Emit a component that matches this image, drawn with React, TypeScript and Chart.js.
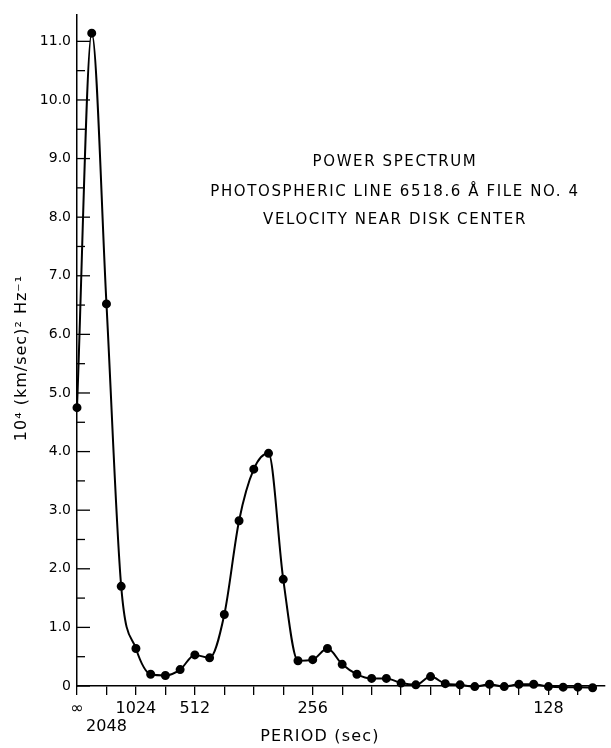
import React, { useEffect, useRef } from 'react';
import { Chart, registerables } from 'chart.js';

Chart.register(...registerables);

// frequency index: step of 1/4096 Hz
const freqIndex = [0, 1, 2, 3, 4, 5, 6, 7, 8, 9, 10, 11, 12, 13, 14, 15, 16, 17, 18, 19, 20, 21, 22, 23, 24, 25, 26, 27, 28, 29, 30, 31, 32, 33, 34, 35];
const power = [4.75, 11.14, 6.52, 1.7, 0.64, 0.2, 0.18, 0.28, 0.53, 0.48, 1.22, 2.82, 3.7, 3.97, 1.82, 0.43, 0.45, 0.64, 0.37, 0.2, 0.13, 0.13, 0.05, 0.02, 0.16, 0.04, 0.02, -0.01, 0.03, -0.01, 0.03, 0.03, -0.01, -0.02, -0.02, -0.03];

const periodTickValues = [0, 2, 4, 8, 16, 32];
const periodTickLabels = ['∞', '2048', '1024', '512', '256', '128'];
const periodTickLowered = [false, true, false, false, false, false];

const yTickValues = [0, 1, 2, 3, 4, 5, 6, 7, 8, 9, 10, 11];
const yMinorTickValues = [0.5, 1.5, 2.5, 3.5, 4.5, 5.5, 6.5, 7.5, 8.5, 9.5, 10.5];

const titleLines = ['POWER SPECTRUM', 'PHOTOSPHERIC LINE 6518.6 Å FILE NO. 4', 'VELOCITY NEAR DISK CENTER'];
const xTitle = 'PERIOD (sec)';
const yTitle = '10⁴ (km/sec)² Hz⁻¹';

const FONT = '"DejaVu Sans", sans-serif';

const decorPlugin = {
  id: 'decor',
  afterDraw(chart: any) {
    const { ctx, chartArea, scales } = chart;
    const y = scales.y;
    ctx.save();
    ctx.strokeStyle = '#000';
    ctx.lineWidth = 1.3;
    const left = chartArea.left;
    yTickValues.forEach((v) => {
      const py = y.getPixelForValue(v);
      ctx.beginPath();
      ctx.moveTo(left, py);
      ctx.lineTo(left + 13, py);
      ctx.stroke();
    });
    yMinorTickValues.forEach((v) => {
      const py = y.getPixelForValue(v);
      ctx.beginPath();
      ctx.moveTo(left, py);
      ctx.lineTo(left + 8, py);
      ctx.stroke();
    });

    ctx.fillStyle = '#000';
    ctx.textAlign = 'center';
    ctx.textBaseline = 'middle';
    ctx.font = `15px ${FONT}`;
    (ctx as any).letterSpacing = '1.6px';
    const tx = 395;
    const tys = [162, 192, 220];
    titleLines.forEach((t, i) => ctx.fillText(t, tx, tys[i]));

    ctx.font = `16px ${FONT}`;
    (ctx as any).letterSpacing = '1.2px';
    ctx.fillText(xTitle, 320, 737);

    ctx.translate(22, 358);
    ctx.rotate(-Math.PI / 2);
    ctx.font = `16px ${FONT}`;
    (ctx as any).letterSpacing = '1px';
    ctx.fillText(yTitle, 0, 0);
    ctx.restore();
  },
};

export default function App() {
  const ref = useRef<HTMLCanvasElement | null>(null);

  useEffect(() => {
    if (!ref.current) return;
    const chart = new Chart(ref.current, {
      type: 'line',
      data: {
        datasets: [
          {
            data: freqIndex.map((x, i) => ({ x, y: power[i] })),
            borderColor: '#000',
            backgroundColor: '#000',
            borderWidth: 2,
            pointRadius: 3.5,
            pointBackgroundColor: '#000',
            pointBorderColor: '#000',
            cubicInterpolationMode: 'monotone',
            clip: false as any,
          },
        ],
      },
      options: {
        responsive: false,
        animation: false,
        layout: { padding: 0 },
        plugins: {
          legend: { display: false },
          tooltip: { enabled: false },
          title: { display: false },
        },
        scales: {
          x: {
            type: 'linear',
            min: 0,
            max: 35.84,
            afterFit: (s: any) => {
              s.height = 62;
            },
            border: { display: true, color: '#000', width: 1.5 },
            grid: { display: true, drawOnChartArea: false, drawTicks: true, tickLength: 9, color: '#000', lineWidth: 1.3 },
            ticks: {
              stepSize: 2,
              includeBounds: false,
              autoSkip: false,
              maxRotation: 0,
              padding: 5,
              color: '#000',
              font: { family: FONT, size: 16, lineHeight: 1.1 },
              callback: (value: any) => {
                const i = periodTickValues.indexOf(Number(value));
                if (i < 0) return '';
                return periodTickLowered[i] ? ['', periodTickLabels[i]] : periodTickLabels[i];
              },
            },
          },
          y: {
            type: 'linear',
            min: 0,
            max: 11.46,
            afterFit: (s: any) => {
              s.width = 77;
            },
            border: { display: true, color: '#000', width: 1.5 },
            grid: { display: true, drawOnChartArea: false, drawTicks: false },
            ticks: {
              stepSize: 1,
              includeBounds: false,
              padding: 6,
              color: '#000',
              font: { family: FONT, size: 14 },
              callback: (value: any) => (Number(value) === 0 ? '0' : Number(value).toFixed(1)),
            },
          },
        },
      },
      plugins: [decorPlugin],
    });
    return () => chart.destroy();
  }, []);

  return (
    <div style={{ position: 'fixed', left: 0, top: 0, width: 611, height: 748, background: '#fff' }}>
      <canvas ref={ref} width={611} height={748} style={{ width: 611, height: 748, display: 'block' }} />
    </div>
  );
}
